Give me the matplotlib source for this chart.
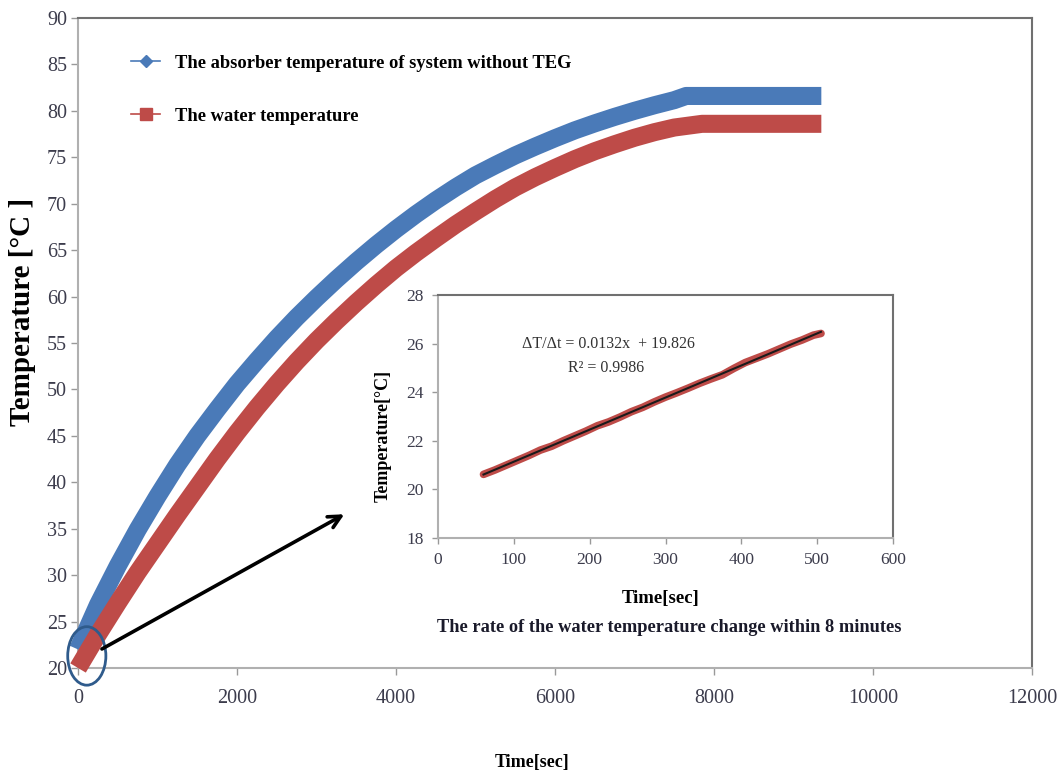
import matplotlib
matplotlib.use("Agg")
import matplotlib.pyplot as plt
from matplotlib.lines import Line2D
from matplotlib.patches import Ellipse
import numpy as np

plt.rcParams["font.family"] = ["Liberation Serif", "DejaVu Serif"]

# main chart: heating curves (time in s, temperature in degC)
ABS_TIME = [0, 250, 500, 750, 1000, 1250, 1500, 1750, 2000, 2250, 2500, 2750,
            3000, 3250, 3500, 3750, 4000, 4250, 4500, 4750, 5000, 5250, 5500,
            5750, 6000, 6250, 6500, 6750, 7000, 7250, 7500, 7650, 9350]
ABS_TEMP = [22.0, 26.8, 31.0, 34.9, 38.5, 41.9, 45.0, 47.85, 50.6, 53.1, 55.5,
            57.75, 59.85, 61.85, 63.75, 65.55, 67.25, 68.85, 70.35, 71.75, 73.05,
            74.15, 75.2, 76.15, 77.05, 77.9, 78.65, 79.35, 80.0, 80.6, 81.15,
            81.6, 81.6]
WATER_TIME = [0, 250, 500, 750, 1000, 1250, 1500, 1750, 2000, 2250, 2500, 2750,
              3000, 3250, 3500, 3750, 4000, 4250, 4500, 4750, 5000, 5250, 5500,
              5750, 6000, 6250, 6500, 6750, 7000, 7250, 7500, 7850, 9350]
WATER_TEMP = [20.0, 23.6, 27.0, 30.3, 33.4, 36.5, 39.5, 42.5, 45.35, 48.05, 50.6,
              53.0, 55.25, 57.35, 59.35, 61.25, 63.05, 64.7, 66.25, 67.75, 69.15,
              70.5, 71.75, 72.85, 73.85, 74.8, 75.65, 76.4, 77.1, 77.7, 78.2,
              78.6, 78.6]

# inset: first 8 minutes of water temperature
INSET_TIME = [60, 75, 90, 105, 120, 135, 150, 165, 180, 195, 210, 225, 240, 255,
              270, 285, 300, 315, 330, 345, 360, 375, 390, 405, 420, 435, 450,
              465, 480, 495, 505]
INSET_TEMP = [20.62, 20.80, 21.00, 21.20, 21.40, 21.62, 21.78, 22.00, 22.20,
              22.40, 22.62, 22.78, 22.98, 23.20, 23.38, 23.60, 23.80, 23.98,
              24.17, 24.37, 24.55, 24.72, 24.98, 25.22, 25.40, 25.58, 25.78,
              25.98, 26.15, 26.35, 26.42]

LABEL_ABS = "The absorber temperature of system without TEG"
LABEL_WATER = "The water temperature"

BLUE = "#4a7ab8"
RED = "#be4b48"
TICK_COLOR = "#3c3c4c"

fig = plt.figure(figsize=(10.59, 7.81), dpi=100)
ax = fig.add_axes([0.0737, 0.1447, 0.9008, 0.8323])

ax.plot(ABS_TIME, ABS_TEMP, color=BLUE, lw=13, solid_capstyle="butt",
        solid_joinstyle="round", clip_on=False, zorder=3)
ax.plot(WATER_TIME, WATER_TEMP, color=RED, lw=13, solid_capstyle="butt",
        solid_joinstyle="round", clip_on=False, zorder=3)

ax.set_xlim(0, 12000)
ax.set_ylim(20, 90)
ax.set_xticks(np.arange(0, 12001, 2000))
ax.set_yticks(np.arange(20, 91, 5))
ax.tick_params(direction="out", length=5, width=1, color="#999999",
               labelsize=14.5, labelcolor=TICK_COLOR)
ax.tick_params(axis="x", pad=10)
ax.tick_params(axis="y", pad=3)
for side in ["left", "bottom"]:
    ax.spines[side].set_color("#b0b0b0")
    ax.spines[side].set_linewidth(1.5)
for side in ["top", "right"]:
    ax.spines[side].set_color("#707070")
    ax.spines[side].set_linewidth(1.5)

ax.set_ylabel("Temperature [\u00b0C ]", fontsize=21, fontweight="bold", va="center")
ax.yaxis.set_label_coords(-0.058, 0.548)
ax.set_xlabel("Time[sec]", fontsize=13, fontweight="bold", va="center")
ax.xaxis.set_label_coords(0.476, -0.145)

handles = [
    Line2D([], [], color=BLUE, lw=1.2, marker="D", markersize=6),
    Line2D([], [], color=RED, lw=1.2, marker="s", markersize=8),
]
ax.legend(handles, [LABEL_ABS, LABEL_WATER], loc="upper left",
          bbox_to_anchor=(0.038, 0.969), frameon=False, handlelength=1.6,
          handletextpad=0.8, labelspacing=1.95,
          prop={"size": 13.3, "weight": "bold"})

# highlight of the start region and arrow to the inset
ax.add_patch(Ellipse((110, 21.3), 480, 6.3, fill=False, edgecolor="#2f5b8c",
                     lw=2, clip_on=False, zorder=5))
ax.annotate("", xy=(3380, 36.7), xytext=(270, 21.9),
            arrowprops=dict(arrowstyle="->", color="black", lw=2.6,
                            mutation_scale=22),
            annotation_clip=False, zorder=6)

# inset
axi = fig.add_axes([0.4136, 0.3111, 0.4297, 0.3111])
axi.plot(INSET_TIME, INSET_TEMP, color=RED, lw=5.5, solid_capstyle="round")
coef = np.polyfit(INSET_TIME, INSET_TEMP, 1)
fit_x = np.array([INSET_TIME[0], INSET_TIME[-1]])
axi.plot(fit_x, np.polyval(coef, fit_x), color="#1a1a1a", lw=1.5)
axi.set_xlim(0, 600)
axi.set_ylim(18, 28)
axi.set_xticks(np.arange(0, 601, 100))
axi.set_yticks(np.arange(18, 29, 2))
axi.tick_params(direction="out", length=4, width=1, color="#999999",
                labelsize=12.5, labelcolor=TICK_COLOR, pad=6)
for side in ["left", "bottom"]:
    axi.spines[side].set_color("#b0b0b0")
    axi.spines[side].set_linewidth(1.5)
for side in ["top", "right"]:
    axi.spines[side].set_color("#707070")
    axi.spines[side].set_linewidth(1.5)
axi.set_ylabel("Temperature[\u00b0C]", fontsize=13, fontweight="bold", va="center")
axi.yaxis.set_label_coords(-0.121, 0.42)
axi.set_xlabel("Time[sec]", fontsize=13.5, fontweight="bold", va="center")
axi.xaxis.set_label_coords(0.49, -0.247)
axi.text(0.185, 0.80, "\u0394T/\u0394t = 0.0132x  + 19.826", transform=axi.transAxes,
         fontsize=11.5, color="#333333", va="center")
axi.text(0.286, 0.70, "R\u00b2 = 0.9986", transform=axi.transAxes,
         fontsize=11.5, color="#333333", va="center")
fig.text(0.632, 0.196, "The rate of the water temperature change within 8 minutes",
         ha="center", va="center", fontsize=13.2, fontweight="bold", color="#1a1a2a")

fig.savefig("out.png", dpi=100)
